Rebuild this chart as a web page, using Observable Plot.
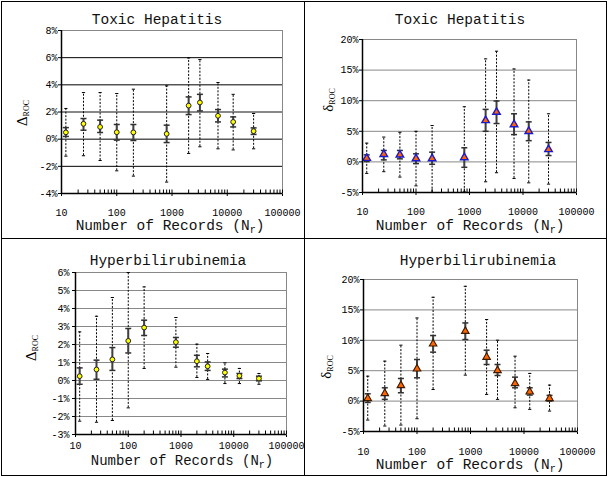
<!DOCTYPE html>
<html>
<head>
<meta charset="utf-8">
<script src="https://cdn.jsdelivr.net/npm/d3@7"></script>
<script src="https://cdn.jsdelivr.net/npm/@observablehq/plot@0.6"></script>
<style>
  body { margin: 0; background: #fff; }
  #root { position: relative; width: 609px; height: 477px; background: #fff; overflow: hidden; }
  .lbl { position: absolute; white-space: nowrap; font-family: "Liberation Mono", monospace; color: #111; transform: translate(-50%, -50%); line-height: 1; }
  .ylbl { position: absolute; white-space: nowrap; font-family: "Liberation Serif", serif; color: #000; transform: translate(-50%, -50%) rotate(-90deg); line-height: 1; }
  .ylbl sub { font-size: 8px; vertical-align: -2px; }
  .lbl sub { font-size: 10px; vertical-align: -3px; }
  .line { position: absolute; background: #000; }
  .panel { position: absolute; }
</style>
</head>
<body>
<div id="root"></div>
<script>
// Number of records (x positions, shared)
const records = [12, 25, 50, 100, 200, 800, 2000, 3200, 6800, 12800, 30000];
const xTicks = [10, 100, 1000, 10000, 100000];

// Panel titles
const titles = ["Toxic Hepatitis", "Toxic Hepatitis", "Hyperbilirubinemia", "Hyperbilirubinemia"];

// Toxic Hepatitis, Delta_ROC (%)
const thDeltaMean = [0.5, 1.13, 0.9, 0.51, 0.5, 0.39, 2.47, 2.7, 1.72, 1.27, 0.59];
const thDeltaSeLo = [0.2, 0.66, 0.49, -0.07, -0.1, -0.25, 1.81, 2.08, 1.27, 0.9, 0.35];
const thDeltaSeHi = [0.85, 1.52, 1.4, 1.08, 1.08, 1.03, 3.11, 3.3, 2.18, 1.64, 0.83];
const thDeltaCiLo = [-1.25, -1.22, -1.57, -2.33, -2.72, -3.16, -1.05, -0.56, -0.71, -0.79, -0.71];
const thDeltaCiHi = [2.26, 3.43, 3.43, 3.36, 3.68, 3.92, 5.98, 5.86, 4.17, 3.3, 1.89];
const thDeltaTicks = [-4, -2, 0, 2, 4, 6, 8];

// Toxic Hepatitis, delta_ROC (%)
const thSmallMean = [0.6, 1.25, 1.15, 0.55, 0.55, 0.71, 6.77, 8.13, 6.1, 5.0, 2.03];
const thSmallSeLo = [0.05, 0.33, 0.5, -0.28, -0.39, -0.88, 5.0, 6.27, 4.46, 3.47, 1.04];
const thSmallSeHi = [1.15, 1.87, 1.87, 1.32, 1.59, 2.31, 8.58, 9.95, 7.86, 6.54, 3.18];
const thSmallCiLo = [-1.88, -1.6, -2.48, -3.91, -5.0, -4.9, -3.25, -1.77, -2.7, -3.42, -3.63];
const thSmallCiHi = [3.07, 4.06, 4.84, 5.0, 5.94, 9.01, 16.83, 18.09, 15.18, 13.37, 7.86];
const smallTicks = [-5, 0, 5, 10, 15, 20];

// Hyperbilirubinemia, Delta_ROC (%)
const hbDeltaMean = [0.24, 0.61, 1.17, 2.2, 2.94, 2.13, 1.07, 0.79, 0.44, 0.26, 0.11];
const hbDeltaSeLo = [-0.21, 0.07, 0.56, 1.53, 2.5, 1.85, 0.76, 0.56, 0.2, 0.11, -0.02];
const hbDeltaSeHi = [0.7, 1.13, 1.83, 2.89, 3.35, 2.39, 1.4, 1.03, 0.63, 0.39, 0.24];
const hbDeltaCiLo = [-2.26, -2.32, -2.22, -1.52, 0.67, 0.74, 0.17, 0.06, -0.17, -0.17, -0.21];
const hbDeltaCiHi = [2.7, 3.57, 4.61, 6.0, 5.2, 3.5, 2.02, 1.5, 0.98, 0.67, 0.39];
const hbDeltaTicks = [-3, -2, -1, 0, 1, 2, 3, 4, 5, 6];

// Hyperbilirubinemia, delta_ROC (%)
const hbSmallMean = [0.44, 1.26, 2.57, 5.31, 9.41, 11.49, 7.22, 5.04, 2.9, 1.53, 0.44];
const hbSmallSeLo = [-0.22, 0.28, 1.37, 3.83, 8.05, 10.12, 6.02, 4.21, 2.19, 0.99, 0];
const hbSmallSeHi = [1.2, 2.19, 3.72, 6.84, 10.78, 12.86, 8.37, 6.02, 3.94, 2.19, 0.94];
const hbSmallCiLo = [-3.12, -4.1, -3.94, -2.9, 1.91, 4.27, 1.1, 0.28, -1.1, -1.36, -1.64];
const hbSmallCiHi = [4.1, 6.57, 9.2, 13.68, 17.08, 18.88, 13.41, 10.02, 7.39, 4.55, 2.63];

// minor tick values of the log axis (2..9 within each decade)
const minorTicks = [];
for (const d of [10, 100, 1000, 10000]) for (let k = 2; k <= 9; k++) minorTicks.push(d * k);

const hSym = { draw(ctx, size) { const w = Math.sqrt(size / Math.PI); ctx.moveTo(-w, 0); ctx.lineTo(w, 0); } };
const vSym = { draw(ctx, size) { const w = Math.sqrt(size / Math.PI); ctx.moveTo(0, -w); ctx.lineTo(0, w); } };

const root = document.getElementById("root");

function addDiv(cls, html, x, y, style) {
  const d = document.createElement("div");
  d.className = cls;
  d.innerHTML = html;
  d.style.left = x + "px";
  d.style.top = y + "px";
  Object.assign(d.style, style || {});
  root.appendChild(d);
}

function panel(cfg) {
  const rows = records.map((x, i) => ({
    x, m: cfg.mean[i], slo: cfg.seLo[i], shi: cfg.seHi[i], dlo: cfg.ciLo[i], dhi: cfg.ciHi[i]
  }));
  const y0 = cfg.yTicks[0];
  const y1 = cfg.yTicks[cfg.yTicks.length - 1];
  const grid = cfg.yTicks.filter(t => t !== y0);
  const plot = Plot.plot({
    width: cfg.w, height: cfg.h,
    marginLeft: cfg.ml, marginRight: cfg.mr, marginTop: cfg.mt, marginBottom: cfg.mb,
    style: "font-family: 'Liberation Mono', monospace; font-size: 10px; color: #000; background: transparent; overflow: visible;",
    x: { type: "log", domain: [10, 100000], ticks: xTicks, tickFormat: d => String(d), tickSize: 3, tickPadding: cfg.xPad, label: null },
    y: { domain: [y0, y1], ticks: cfg.yTicks, tickFormat: d => d + "%", tickSize: 3, tickPadding: cfg.yPad, label: null },
    marks: [
      Plot.ruleY(grid, { stroke: d => (cfg.gridFn ? cfg.gridFn(d) : "#888"), strokeWidth: d => (cfg.gridW ? cfg.gridW(d) : 1) }),
      Plot.frame({ stroke: "#888" }),
      Plot.ruleX(rows, { x: "x", y1: "dlo", y2: "dhi", stroke: "#000", strokeWidth: 1, strokeDasharray: "2,1.5" }),
      Plot.dot(rows, { x: "x", y: "dlo", symbol: hSym, r: 1.6, fill: "none", stroke: "#000", strokeWidth: 1 }),
      Plot.dot(rows, { x: "x", y: "dhi", symbol: hSym, r: 1.6, fill: "none", stroke: "#000", strokeWidth: 1 }),
      Plot.ruleX(rows, { x: "x", y1: "slo", y2: "shi", stroke: "#404040", strokeWidth: 2 }),
      Plot.dot(rows, { x: "x", y: "slo", symbol: hSym, r: 3, fill: "none", stroke: "#303030", strokeWidth: 1.5 }),
      Plot.dot(rows, { x: "x", y: "shi", symbol: hSym, r: 3, fill: "none", stroke: "#303030", strokeWidth: 1.5 }),
      Plot.dot(rows, { x: "x", y: "m", symbol: cfg.symbol, r: cfg.r, fill: cfg.fill, stroke: cfg.stroke, strokeWidth: cfg.sw }),
      Plot.ruleX([10], { stroke: "#000", strokeWidth: 1.5 }),
      Plot.ruleY([y0], { stroke: "#000", strokeWidth: 1.5 }),
      Plot.dot(minorTicks.concat(xTicks), { x: d => d, y: y0, symbol: vSym, r: 2, dy: -2, fill: "none", stroke: "#000", strokeWidth: 1 })
    ]
  });
  const wrap = document.createElement("div");
  wrap.className = "panel";
  wrap.style.left = cfg.left + "px";
  wrap.style.top = cfg.top + "px";
  wrap.appendChild(plot);
  root.appendChild(wrap);
}

// Panel 1
panel({
  left: 0, top: 0, w: 305, h: 238, ml: 61, mr: 23, mt: 30, mb: 45, xPad: 12, yPad: 1,
  mean: thDeltaMean, seLo: thDeltaSeLo, seHi: thDeltaSeHi, ciLo: thDeltaCiLo, ciHi: thDeltaCiHi,
  yTicks: thDeltaTicks,
  gridFn: d => (d === 2 ? "#888" : "#000"), gridW: d => (d === 2 ? 2 : 1),
  symbol: "circle", r: 2.4, fill: "#ffff00", stroke: "#222", sw: 1
});
// Panel 2
panel({
  left: 305, top: 0, w: 304, h: 238, ml: 57, mr: 33, mt: 39, mb: 46, xPad: 12, yPad: 1,
  mean: thSmallMean, seLo: thSmallSeLo, seHi: thSmallSeHi, ciLo: thSmallCiLo, ciHi: thSmallCiHi,
  yTicks: smallTicks,
  symbol: "triangle", r: 2.8, fill: "#ff6600", stroke: "#1a1acc", sw: 1.4
});
// Panel 3
panel({
  left: 0, top: 238, w: 305, h: 239, ml: 75, mr: 19, mt: 34, mb: 43, xPad: 4, yPad: 3,
  mean: hbDeltaMean, seLo: hbDeltaSeLo, seHi: hbDeltaSeHi, ciLo: hbDeltaCiLo, ciHi: hbDeltaCiHi,
  yTicks: hbDeltaTicks,
  symbol: "circle", r: 2.4, fill: "#ffff00", stroke: "#222", sw: 1
});
// Panel 4
panel({
  left: 305, top: 238, w: 304, h: 239, ml: 58, mr: 32, mt: 41, mb: 46, xPad: 13, yPad: 1,
  mean: hbSmallMean, seLo: hbSmallSeLo, seHi: hbSmallSeHi, ciLo: hbSmallCiLo, ciHi: hbSmallCiHi,
  yTicks: smallTicks,
  symbol: "triangle", r: 2.8, fill: "#ff6600", stroke: "#3a1a00", sw: 1.1
});

// Titles
addDiv("lbl", titles[0], 157, 20, { fontSize: "14.5px" });
addDiv("lbl", titles[1], 460, 20, { fontSize: "14.5px" });
addDiv("lbl", titles[2], 168, 261, { fontSize: "14.5px" });
addDiv("lbl", titles[3], 478, 261, { fontSize: "14.5px" });

// X axis labels
const xLabel = "Number of Records (N<sub>r</sub>)";
addDiv("lbl", xLabel, 170, 227, { fontSize: "14.5px" });
addDiv("lbl", xLabel, 470, 227, { fontSize: "14.5px" });
addDiv("lbl", xLabel, 182, 462, { fontSize: "14px" });
addDiv("lbl", xLabel, 470, 466, { fontSize: "14.5px" });

// Y axis labels
addDiv("ylbl", "&Delta;<sub>ROC</sub>", 23, 113, { fontSize: "15px" });
addDiv("ylbl", "&delta;<sub>ROC</sub>", 329, 100, { fontSize: "15px" });
addDiv("ylbl", "&Delta;<sub>ROC</sub>", 32, 348, { fontSize: "15px" });
addDiv("ylbl", "&delta;<sub>ROC</sub>", 327, 367, { fontSize: "15px" });

// Borders
addDiv("line", "", 1, 1, { width: "606px", height: "1px" });
addDiv("line", "", 1, 475, { width: "606px", height: "1px" });
addDiv("line", "", 1, 1, { width: "1px", height: "475px" });
addDiv("line", "", 606, 1, { width: "1px", height: "475px" });
addDiv("line", "", 304, 1, { width: "1px", height: "475px" });
addDiv("line", "", 1, 238, { width: "606px", height: "1px" });
</script>
</body>
</html>
